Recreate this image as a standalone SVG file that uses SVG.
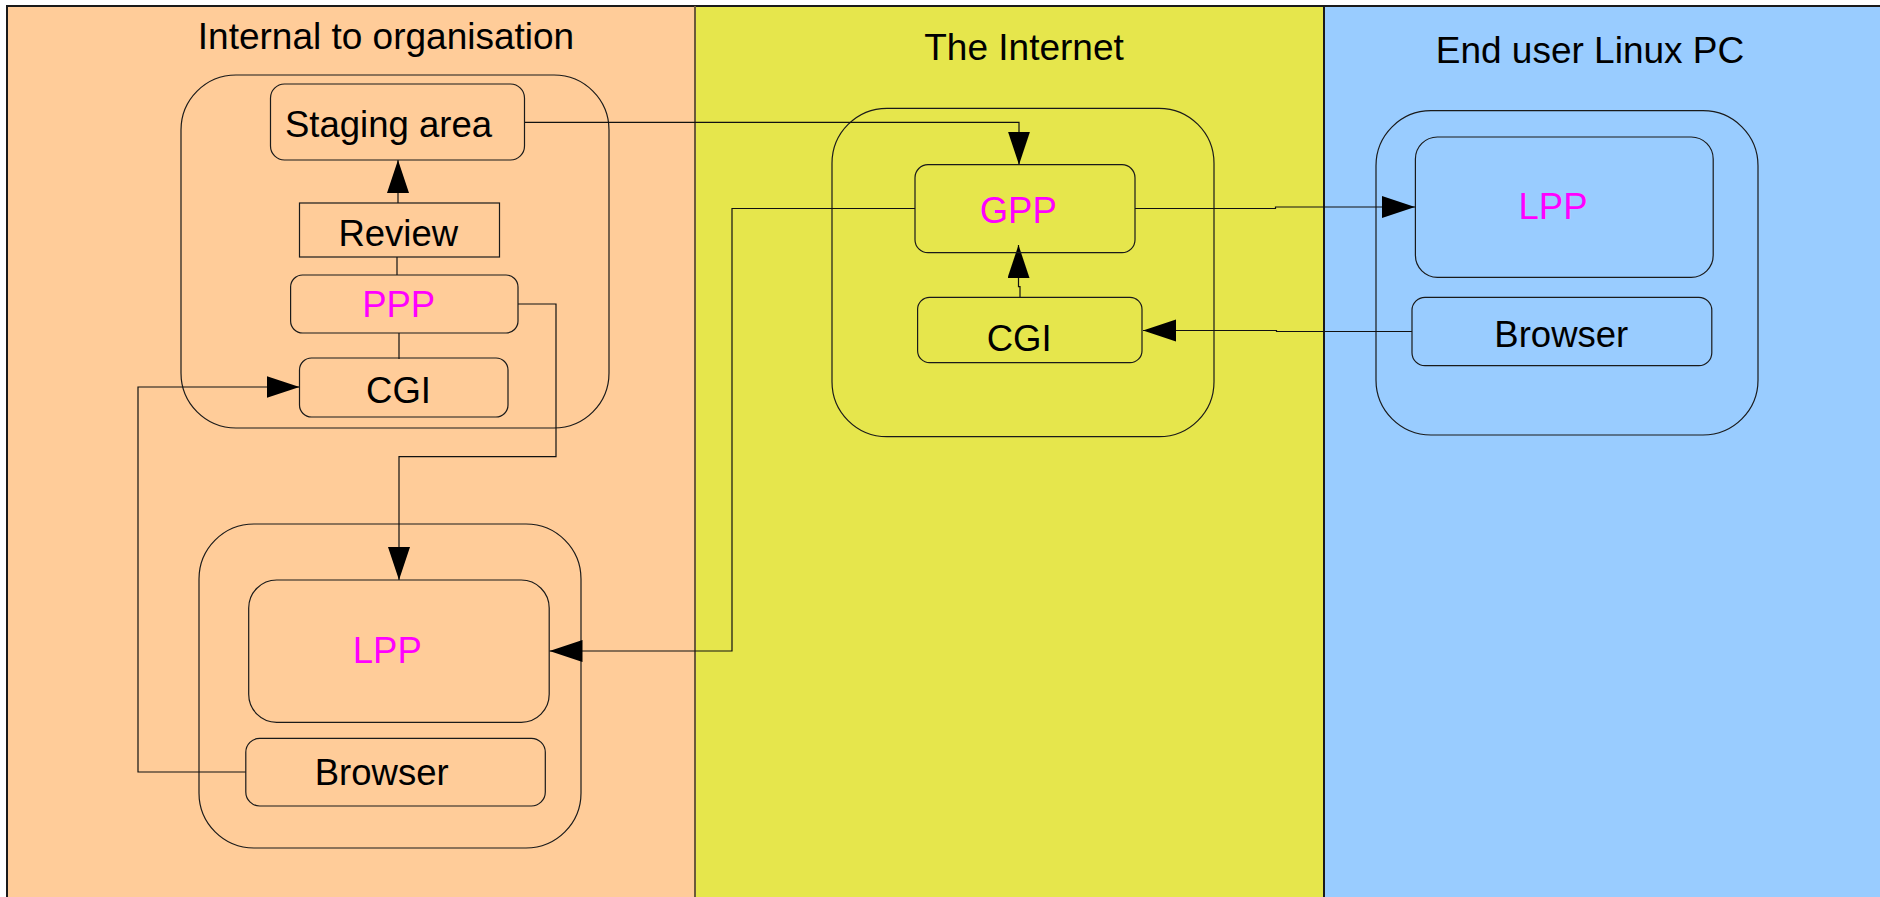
<svg xmlns="http://www.w3.org/2000/svg" width="1880" height="897" viewBox="0 0 1880 897">
<defs>
<style>
.box{fill:none;stroke:#1a1a1a;stroke-width:1.2}
.lbl{font-family:"Liberation Sans",Arial,sans-serif;font-size:36.5px;fill:#000;text-anchor:middle}
.mag{fill:#ff00ff}
.title{font-family:"Liberation Sans",Arial,sans-serif;font-size:37px;fill:#000;text-anchor:middle}
.con{fill:none;stroke:#111;stroke-width:1.2}
</style>
<marker id="arr" markerUnits="userSpaceOnUse" markerWidth="34" markerHeight="23" refX="33" refY="11" orient="auto">
<path d="M0,0 L33,11 L0,22 Z" fill="#000"/>
</marker>
</defs>
<g id="panels">
<rect x="7" y="6" width="688" height="891" fill="#ffcc99"/>
<rect x="695" y="6" width="629" height="891" fill="#e6e64c"/>
<rect x="1324" y="6" width="556" height="891" fill="#99ccff"/>
<path d="M7,897 V6 H1880" fill="none" stroke="#1a1a1a" stroke-width="2"/>
<line x1="695" y1="6" x2="695" y2="897" stroke="#6b5a3a" stroke-width="2"/>
<line x1="1324" y1="6" x2="1324" y2="897" stroke="#1a1a1a" stroke-width="2"/>
<text class="title" x="386" y="49">Internal to organisation</text>
<text class="title" x="1024" y="60">The Internet</text>
<text class="title" x="1590" y="62.7">End user Linux PC</text>
</g>
<g id="group-internal-top"><rect class="box" x="181" y="75" width="428" height="353" rx="55" ry="55"/></g>
<g id="group-internal-bottom"><rect class="box" x="199" y="524" width="382" height="324" rx="55" ry="55"/></g>
<g id="group-internet"><rect class="box" x="832" y="108.3" width="382" height="328.4" rx="55" ry="55"/></g>
<g id="group-enduser"><rect class="box" x="1376" y="110.7" width="382" height="324.3" rx="55" ry="55"/></g>
<g id="connectors">
<path class="con" d="M398,203 V160" marker-end="url(#arr)"/>
<path class="con" d="M397,257 V275"/>
<path class="con" d="M399,333 V359"/>
<path class="con" d="M245.8,772 H138 V387 H299.5" marker-end="url(#arr)"/>
<path class="con" d="M518,304 H556 V456.7 H399 V580" marker-end="url(#arr)"/>
<path class="con" d="M524.5,122.3 H1019 V164.7" marker-end="url(#arr)"/>
<path class="con" d="M915,208.5 H732 V651 H549.5" marker-end="url(#arr)"/>
<path class="con" d="M1135,208.5 H1275.5 V207 H1415" marker-end="url(#arr)"/>
<path class="con" d="M1020,297.3 V286.7 H1018.5 V245" marker-end="url(#arr)"/>
<path class="con" d="M1412,331.5 H1276.5 V330.5 H1143" marker-end="url(#arr)"/>
</g>
<g id="staging"><rect class="box" x="270.5" y="84" width="254" height="76" rx="14"/><text class="lbl" x="388.5" y="137">Staging area</text></g>
<g id="review"><rect class="box" x="299.5" y="203" width="200" height="54"/><text class="lbl" x="398.3" y="246">Review</text></g>
<g id="ppp"><rect class="box" x="290.6" y="275" width="227.4" height="58" rx="12"/><text class="lbl mag" x="398.7" y="317">PPP</text></g>
<g id="cgi-internal"><rect class="box" x="299.5" y="358" width="208.5" height="59" rx="12"/><text class="lbl" x="398.5" y="403">CGI</text></g>
<g id="lpp-internal"><rect class="box" x="248.7" y="580" width="300.5" height="142.3" rx="28"/><text class="lbl mag" x="387.3" y="663.3">LPP</text></g>
<g id="browser-internal"><rect class="box" x="245.8" y="738.3" width="299.5" height="67.7" rx="14"/><text class="lbl" x="381.7" y="785">Browser</text></g>
<g id="gpp"><rect class="box" x="915" y="164.7" width="220" height="88" rx="13"/><text class="lbl mag" x="1018.2" y="223.3">GPP</text></g>
<g id="cgi-internet"><rect class="box" x="917.6" y="297.3" width="224.4" height="65.4" rx="12"/><text class="lbl" x="1019.2" y="350.7">CGI</text></g>
<g id="lpp-enduser"><rect class="box" x="1415.4" y="137" width="297.8" height="140.3" rx="22"/><text class="lbl mag" x="1553" y="219">LPP</text></g>
<g id="browser-enduser"><rect class="box" x="1412" y="297.3" width="299.8" height="68.4" rx="13"/><text class="lbl" x="1561.3" y="346.7">Browser</text></g>
</svg>
